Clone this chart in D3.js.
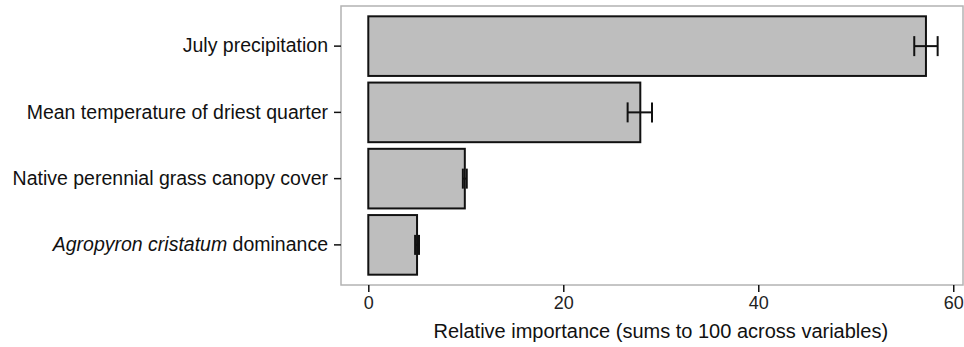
<!DOCTYPE html>
<html>
<head>
<meta charset="utf-8">
<script src="https://cdn.jsdelivr.net/npm/d3@7"></script>
<style>
  body { margin: 0; background: #fff; }
  svg text { font-family: "Liberation Sans", Arial, sans-serif; }
</style>
</head>
<body>
<div id="chart"></div>
<script>
// variables, top to bottom
const variables = [
  'July precipitation',
  'Mean temperature of driest quarter',
  'Native perennial grass canopy cover',
  'Agropyron cristatum dominance'
];
const importance = [57.2, 27.9, 9.9, 5.0];
const errLow = [56.0, 26.6, 9.7, 4.8];
const errHigh = [58.4, 29.1, 10.1, 5.2];
const xTicks = [0, 20, 40, 60];

const data = variables.map((v, i) => ({
  name: v, value: importance[i], lo: errLow[i], hi: errHigh[i]
}));

const W = 964, H = 347;
const margin = { top: 6, right: 1, bottom: 62, left: 341 };
const width = W - margin.left - margin.right;
const height = H - margin.top - margin.bottom;

const svg = d3.select('#chart')
  .append('svg')
  .attr('width', W)
  .attr('height', H)
  .append('g')
  .attr('transform', `translate(${margin.left}, ${margin.top})`);

// X scale
const x = d3.scaleLinear()
  .domain([-2.8, 61])
  .range([0, width]);

// Y scale
const y = d3.scaleBand()
  .domain(variables)
  .range([7, height - 7])
  .paddingInner(0.1)
  .paddingOuter(0.05);

// panel border
svg.append('rect')
  .attr('x', 0)
  .attr('y', 0)
  .attr('width', width)
  .attr('height', height)
  .attr('fill', 'none')
  .attr('stroke', '#b3b3b3')
  .attr('stroke-width', 1.5);

// Bars
svg.selectAll('rect.bar')
  .data(data)
  .enter()
  .append('rect')
  .attr('class', 'bar')
  .attr('x', x(0))
  .attr('y', d => y(d.name))
  .attr('width', d => x(d.value) - x(0))
  .attr('height', y.bandwidth())
  .attr('fill', '#bebebe')
  .attr('stroke', '#111')
  .attr('stroke-width', 2);

// Error bars
const capH = 10;
const eb = svg.selectAll('g.err')
  .data(data)
  .enter()
  .append('g')
  .attr('class', 'err')
  .attr('stroke', '#111')
  .attr('stroke-width', 2);

eb.append('line')
  .attr('x1', d => x(d.lo))
  .attr('x2', d => x(d.hi))
  .attr('y1', d => y(d.name) + y.bandwidth() / 2)
  .attr('y2', d => y(d.name) + y.bandwidth() / 2);

eb.append('line')
  .attr('x1', d => x(d.lo))
  .attr('x2', d => x(d.lo))
  .attr('y1', d => y(d.name) + y.bandwidth() / 2 - capH)
  .attr('y2', d => y(d.name) + y.bandwidth() / 2 + capH);

eb.append('line')
  .attr('x1', d => x(d.hi))
  .attr('x2', d => x(d.hi))
  .attr('y1', d => y(d.name) + y.bandwidth() / 2 - capH)
  .attr('y2', d => y(d.name) + y.bandwidth() / 2 + capH);

// X Axis
const xAxis = svg.append('g')
  .attr('transform', `translate(0, ${height})`)
  .call(d3.axisBottom(x).tickValues(xTicks).tickSize(7).tickPadding(4));
xAxis.select('.domain').remove();
xAxis.selectAll('line').attr('stroke', '#111').attr('stroke-width', 1.5);
xAxis.selectAll('text')
  .attr('font-size', 18)
  .attr('fill', '#222');

// Y Axis
const yAxis = svg.append('g')
  .call(d3.axisLeft(y).tickSize(7).tickPadding(6));
yAxis.select('.domain').remove();
yAxis.selectAll('line').attr('stroke', '#111').attr('stroke-width', 1.5);
yAxis.selectAll('text')
  .attr('font-size', 19.5)
  .attr('fill', '#111')
  .text(null)
  .each(function (d) {
    const t = d3.select(this);
    if (d.startsWith('Agropyron cristatum')) {
      t.append('tspan').attr('font-style', 'italic').text('Agropyron cristatum');
      t.append('tspan').text(' dominance');
    } else {
      t.text(d);
    }
  });

// X-axis label
svg.append('text')
  .attr('x', x(30))
  .attr('y', height + 53)
  .attr('text-anchor', 'middle')
  .attr('font-size', 20)
  .attr('fill', '#111')
  .text('Relative importance (sums to 100 across variables)');
</script>
</body>
</html>
